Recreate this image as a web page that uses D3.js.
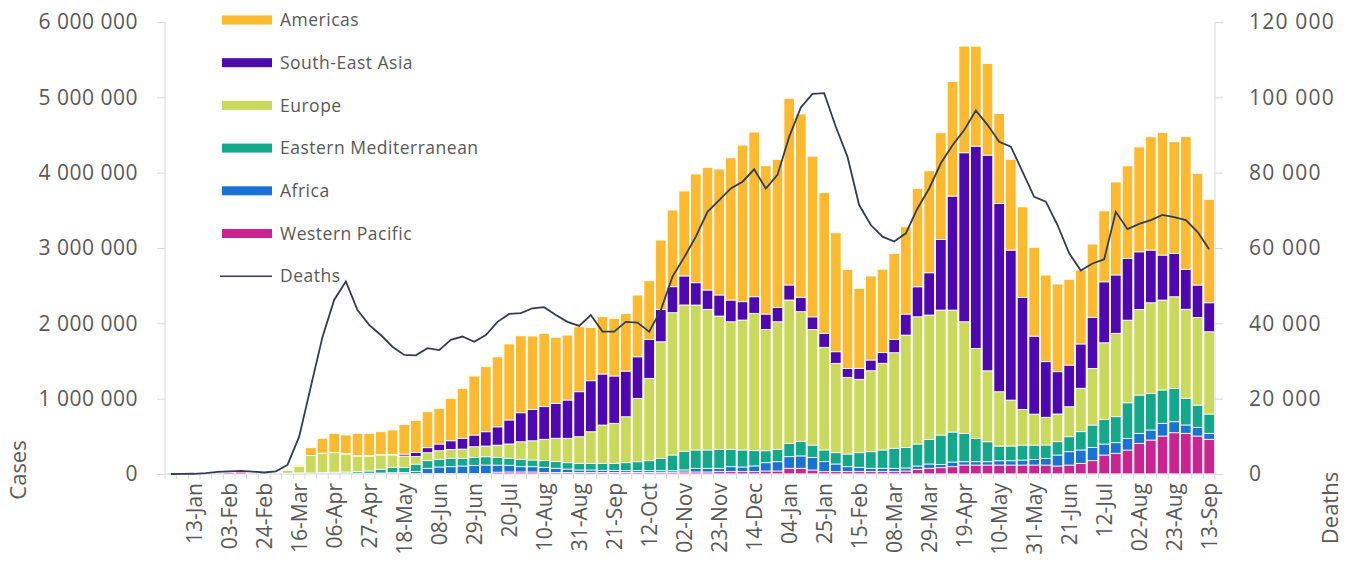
<!DOCTYPE html>
<html>
<head>
<meta charset="utf-8">
<script src="https://cdn.jsdelivr.net/npm/d3@7"></script>
<style>
  body { margin: 0; background: #fff; }
  svg text { font-family: "Open Sans", sans-serif; fill: #595959; }
</style>
</head>
<body>
<svg width="1355" height="564"></svg>
<script>
// weekly cases by WHO region, in thousands (week starting 30-Dec-2019 ... 13-Sep-2021)
const westernPacific = [0.1,0.3,0.5,3,12,20,25,12,4,3, 3,4,4,4,5,5,4,3,3,3,
  3,4,7,7,7,7,7,7,25,27, 27,27,20,20,20,20,20,20,20,20, 20,20,23,24,27,27,27,31,31,31,
  31,40,40,76,76,53,31,31,31,31, 31,31,31,40,62,76,84,97,119,119, 119,119,119,119,119,119,106,119,142,177,
  252,275,318,407,451,504,548,540,504,460];
const africa = [0,0,0,0,0,0,0,0,0,0, 0.2,1,2,3,5,6,7,8,10,14,
  17,27,69,86,90,99,108,112,93,89, 70,70,69,56,46,33,33,29,29,24, 24,24,21,20,27,49,49,45,66,62,
  76,110,123,154,164,168,133,102,66,58, 45,45,45,40,44,57,42,62,44,44, 44,57,57,66,75,89,146,177,177,177,
  146,141,155,133,133,169,146,111,115,80];
const easternMed = [0,0,0,0,0,0,0,0,0.5,5, 8,10,8,12,14,15,20,29,50,72,
  69,100,101,102,111,102,106,110,102,93, 98,89,88,88,84,89,89,93,93,106, 119,133,164,208,248,243,243,252,231,226,
  203,159,165,178,190,163,155,150,168,194, 220,243,265,274,292,327,391,398,377,310, 265,195,195,199,190,177,177,199,243,296,
  328,345,472,508,487,442,443,355,296,256];
const europe = [0,0,0,0,0,0,0,0,1,10, 35,90,230,255,259,239,208,199,189,163,
  150,100,106,114,119,123,141,142,163,190, 233,255,284,311,324,353,419,508,531,610, 841,1093,1547,1889,1942,1924,1867,1769,1693,1725,
  1823,1611,1693,1902,1725,1535,1363,1186,1018,974, 1075,1151,1269,1490,1689,1650,1659,1619,1481,1194, 942,721,610,474,411,368,368,398,576,752,
  1016,1107,1097,1137,1202,1194,1216,1181,1164,1092];
const southEastAsia = [0,0,0,0,0,0,0,0,0,0.1, 0.3,1,1,2,3,4,5,6,8,10,
  25,55,66,89,114,142,155,190,243,318, 385,417,433,464,508,597,677,677,628,606, 552,518,430,345,385,296,256,279,288,243,
  220,203,191,199,191,167,186,154,119,146, 142,141,178,279,398,561,938,1513,2243,2685, 2863,2500,1991,1486,1035,738,561,553,588,677,
  809,774,819,764,699,597,576,531,429,385];
const americas = [0,0,0,0,0,0,0,0,0.1,1, 4,15,104,198,254,249,296,295,301,322,
  394,424,478,474,563,664,783,863,929,1009, 1021,973,974,876,862,863,708,761,764,766, 819,778,920,1018,1128,1443,1628,1672,1888,2079,
  2186,1968,1964,2478,2433,2133,1866,1579,1314,1062, 1115,1107,1141,1158,1306,1354,1415,1520,1416,1327, 1217,1194,1204,1202,1177,1150,1164,1137,982,973,
  942,1234,1229,1393,1504,1628,1481,1760,1482,1372];
// weekly deaths (right axis)
const deaths = [0,20,60,250,550,700,850,650,400,700,
  2400,9900,23200,36400,46200,51100,43500,39600,36900,33800,
  31600,31500,33400,32900,35600,36500,35100,36900,40400,42500,
  42700,44000,44300,42200,40400,39300,42200,37800,37800,40400,
  40200,37800,43500,52400,57500,63000,69600,72700,75800,77600,
  80900,75800,79400,89500,97300,100900,101100,92200,84200,71400,
  66100,63000,61700,63900,70500,75800,82500,87300,91300,96500,
  92700,88200,86900,80300,73600,72300,66100,58600,54000,55900,
  57000,69600,65000,66400,67400,68800,68200,67400,64300,59700];

const tickLabels = ["13-Jan","03-Feb","24-Feb","16-Mar","06-Apr","27-Apr","18-May","08-Jun","29-Jun","20-Jul",
  "10-Aug","31-Aug","21-Sep","12-Oct","02-Nov","23-Nov","14-Dec","04-Jan","25-Jan","15-Feb",
  "08-Mar","29-Mar","19-Apr","10-May","31-May","21-Jun","12-Jul","02-Aug","23-Aug","13-Sep"];

const regions = ["Western Pacific","Africa","Eastern Mediterranean","Europe","South-East Asia","Americas"];
const seriesData = [westernPacific, africa, easternMed, europe, southEastAsia, americas];
const colors = ["#c9248f","#1a72d3","#14a88a","#c8d95c","#4d08b0","#fdba31"];

const svg = d3.select("svg");
const plotLeft = 165, plotRight = 1215, plotTop = 22, plotBase = 474;

const weeks = d3.range(deaths.length);
const table = weeks.map(i => {
  const row = { week: i };
  regions.forEach((r, k) => row[r] = seriesData[k][i] * 1000);
  return row;
});

const x = d3.scaleBand().domain(weeks).range([plotLeft, plotRight]).paddingInner(0.1).paddingOuter(0.05);
const yCases = d3.scaleLinear().domain([0, 6000000]).range([plotBase, plotTop]);
const yDeaths = d3.scaleLinear().domain([0, 120000]).range([plotBase, plotTop]);

const stacked = d3.stack().keys(regions)(table);

// bars
svg.append("g")
  .selectAll("g")
  .data(stacked)
  .enter()
  .append("g")
  .attr("fill", (d, k) => colors[k])
  .selectAll("rect")
  .data(d => d)
  .enter()
  .append("rect")
  .attr("x", d => x(d.data.week))
  .attr("width", x.bandwidth())
  .attr("y", d => yCases(d[1]))
  .attr("height", d => Math.max(0, yCases(d[0]) - yCases(d[1])))
  .attr("stroke", "#fff")
  .attr("stroke-width", 0.8);

// side axes
const fmt = d => d3.format(",")(d).replace(/,/g, " ");
const gl = svg.append("g")
  .attr("transform", `translate(${plotLeft},0)`)
  .call(d3.axisLeft(yCases).tickValues(d3.range(0, 6000001, 1000000)).tickFormat(fmt).tickSize(8).tickPadding(19));
const gr = svg.append("g")
  .attr("transform", `translate(${plotRight},0)`)
  .call(d3.axisRight(yDeaths).tickValues(d3.range(0, 120001, 20000)).tickFormat(fmt).tickSize(8).tickPadding(26));
[gl, gr].forEach(g => {
  g.selectAll("path, line").attr("stroke", "#d9d9d9");
  g.select(".domain").attr("d", `M0,${plotTop}V${plotBase}`);
  g.selectAll("text").attr("font-size", 21).attr("letter-spacing", g === gl ? 0.5 : 1.2)
    .attr("fill", "#595959").style("font-family", "'Open Sans', sans-serif");
});

// bottom axis: baseline, small ticks at each week boundary, labels every 3rd week
const step = x.step();
const x0 = x(0) - x.step() * x.paddingInner() / 2;
svg.append("line")
  .attr("x1", plotLeft).attr("x2", plotRight).attr("y1", plotBase).attr("y2", plotBase)
  .attr("stroke", "#d9d9d9");
svg.append("g")
  .selectAll("line")
  .data(d3.range(deaths.length + 1))
  .enter()
  .append("line")
  .attr("x1", i => x0 + i * step).attr("x2", i => x0 + i * step)
  .attr("y1", plotBase).attr("y2", plotBase + 5)
  .attr("stroke", "#d9d9d9");

svg.append("g")
  .selectAll("text")
  .data(tickLabels)
  .enter()
  .append("text")
  .attr("transform", (d, j) => `translate(${x(2 + j * 3) + x.bandwidth() / 2},483) rotate(-90)`)
  .attr("text-anchor", "end")
  .attr("dy", "0.35em")
  .attr("font-size", 21)
  .text(d => d);

// deaths line
svg.append("path")
  .datum(deaths)
  .attr("fill", "none")
  .attr("stroke", "#323c52")
  .attr("stroke-width", 1.8)
  .attr("d", d3.line().x((d, i) => x(i) + x.bandwidth() / 2).y(d => yDeaths(d)));

// axis titles
svg.append("text")
  .attr("transform", "translate(18,470) rotate(-90)")
  .attr("text-anchor", "middle").attr("dy", "0.35em")
  .attr("font-size", 22).text("Cases");
svg.append("text")
  .attr("transform", "translate(1330,508) rotate(-90)")
  .attr("text-anchor", "middle").attr("dy", "0.35em")
  .attr("font-size", 22).text("Deaths");

// legend
const legendItems = regions.slice().reverse().map((r, k) => ({ name: r, color: colors[regions.length - 1 - k] }));
legendItems.push({ name: "Deaths", line: true });
const lg = svg.append("g").selectAll("g")
  .data(legendItems)
  .enter()
  .append("g")
  .attr("transform", (d, k) => `translate(222,${20 + k * 42.7})`);
lg.filter(d => !d.line).append("rect")
  .attr("x", 0).attr("y", -4.5).attr("width", 50).attr("height", 9)
  .attr("fill", d => d.color);
lg.filter(d => d.line).append("line")
  .attr("x1", -2).attr("x2", 50).attr("y1", 0).attr("y2", 0)
  .attr("stroke", "#323c52").attr("stroke-width", 1.5);
lg.append("text")
  .attr("x", 58).attr("dy", "0.35em")
  .attr("font-size", 17.5)
  .attr("letter-spacing", 0.5)
  .text(d => d.name);
</script>
</body>
</html>
